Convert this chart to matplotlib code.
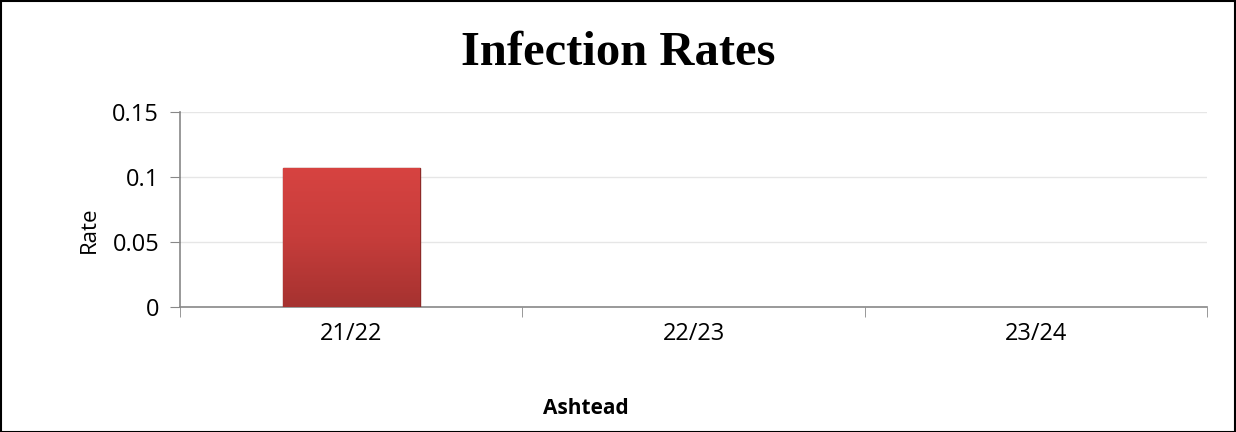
import matplotlib
matplotlib.use("Agg")
import matplotlib.pyplot as plt
import numpy as np
from matplotlib.patches import Rectangle
from matplotlib.colors import LinearSegmentedColormap

categories = ["21/22", "22/23", "23/24"]
values = [0.107, 0, 0]
yticks = [0, 0.05, 0.1, 0.15]
ytick_labels = ["0", "0.05", "0.1", "0.15"]

fig = plt.figure(figsize=(12.36, 4.32), dpi=100)
ax = fig.add_axes([180/1236, 1-307/432, (1207-180)/1236, (307-112)/432])

x = np.arange(len(categories))
bars = ax.bar(x, values, width=0.4, color="#cf403d", edgecolor="#8e2a28", linewidth=1.0, zorder=3)
cmap = LinearSegmentedColormap.from_list("g", ["#a63230", "#c63d3b", "#d74341"])
for b in bars:
    h = b.get_height()
    if h <= 0:
        b.set_linewidth(0)
        continue
    grad = np.linspace(0, 1, 100).reshape(-1, 1)
    im = ax.imshow(grad, extent=[b.get_x(), b.get_x()+b.get_width(), 0, h], origin="lower",
                   aspect="auto", cmap=cmap, zorder=3.5)
    im.set_clip_path(b)

ax.set_xlim(-0.5, 2.5)
ax.set_ylim(0, 0.15)
ax.set_yticks(yticks)
ax.set_yticklabels(ytick_labels, fontsize=17, family="Open Sans")
ax.set_xticks(x)
ax.set_xticklabels(categories, fontsize=17, family="Open Sans")
ax.tick_params(axis="x", length=0, pad=11)
ax.set_xticks([-0.5, 0.5, 1.5, 2.5], minor=True)
ax.tick_params(axis="x", which="minor", length=7, color="#888888", direction="out")
ax.tick_params(axis="y", length=7, color="#888888", direction="out", pad=8)
ax.grid(axis="y", color="#e6e6e6", linewidth=1, zorder=0)
for s in ["top", "right"]:
    ax.spines[s].set_visible(False)
ax.spines["left"].set_color("#888888")
ax.spines["bottom"].set_color("#888888")
ax.spines["left"].set_linewidth(1.2)
ax.spines["bottom"].set_linewidth(1.2)

fig.text(0.5, 1-53/432, "Infection Rates", ha="center", va="center",
         fontsize=35, fontweight="bold", family="Liberation Serif")
fig.text(89/1236, 1-230/432, "Rate", rotation=90, ha="center", va="center",
         fontsize=16, family="Open Sans")
fig.text(586/1236, 1-409/432, "Ashtead", ha="center", va="center",
         fontsize=15, fontweight="bold", family="Open Sans")

fig.patches.append(Rectangle((0.0008, 0.001), 0.998, 0.997, transform=fig.transFigure,
                             fill=False, edgecolor="black", linewidth=1.5))
fig.savefig("out.png", dpi=100)
